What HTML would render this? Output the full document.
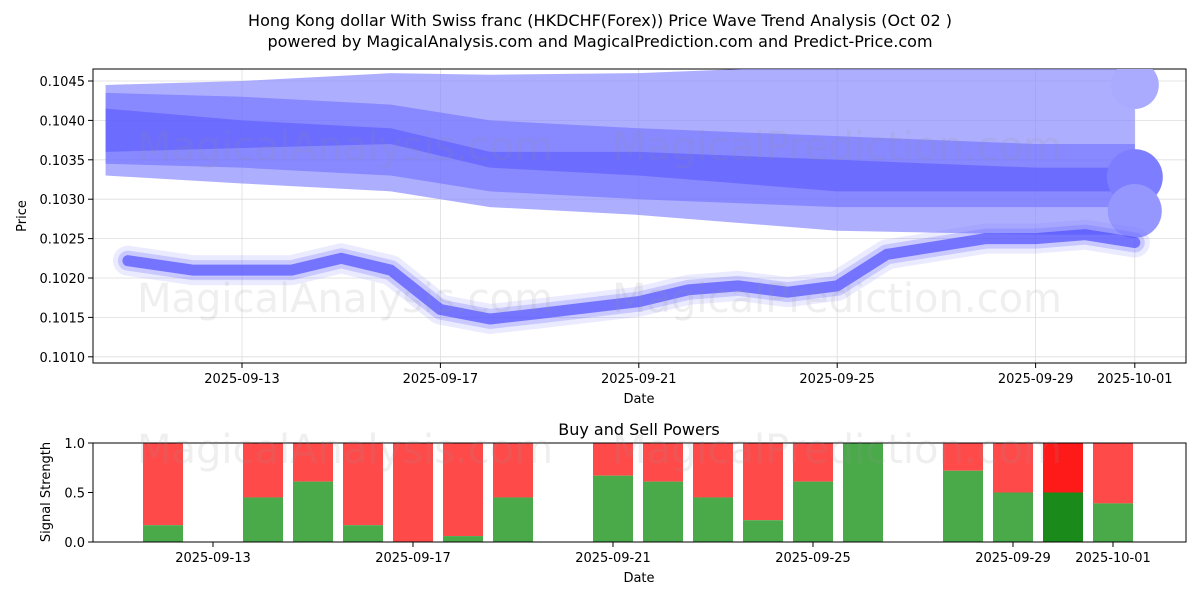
<!DOCTYPE html>
<html><head><meta charset="utf-8"><style>
body{margin:0;background:#fff;font-family:"Liberation Sans","DejaVu Sans",sans-serif}
svg text{font-family:"DejaVu Sans","Liberation Sans",sans-serif;font-size:13px;fill:#000}
</style></head><body>
<svg id="c" width="1200" height="600" xmlns="http://www.w3.org/2000/svg">
<defs><clipPath id="cp"><rect x="93" y="69" width="1093" height="294"/></clipPath></defs>
<text x="600" y="26" text-anchor="middle" style="font-size:16px">Hong Kong dollar With Swiss franc (HKDCHF(Forex)) Price Wave Trend Analysis (Oct 02 )</text>
<text x="600" y="47" text-anchor="middle" style="font-size:16px">powered by MagicalAnalysis.com and MagicalPrediction.com and Predict-Price.com</text>
<g id="topg"></g><g id="plotg" clip-path="url(#cp)"></g><g id="botg"></g>
</svg>
<script>
const NS='http://www.w3.org/2000/svg';
const bandDays=[-2.75,0,3,5,8,12,16,18];
const bandLightTop=[0.10445,0.1045,0.1046,0.10458,0.1046,0.1047,0.1047,0.1047];
const bandLightBot=[0.1033,0.1032,0.1031,0.1029,0.1028,0.1026,0.10255,0.10255];
const bandMidTop=[0.10435,0.1043,0.1042,0.1040,0.1039,0.1038,0.1037,0.1037];
const bandMidBot=[0.10345,0.1034,0.1033,0.1031,0.1030,0.1029,0.1029,0.1029];
const bandDarkTop=[0.10415,0.1040,0.1039,0.1036,0.1036,0.1035,0.1034,0.1034];
const bandDarkBot=[0.1036,0.10365,0.1037,0.1034,0.1033,0.1031,0.1031,0.1031];
const lineDays=[-2.3,-1,0,1,2,3,4,5,6,8,9,10,11,12,13,15,16,17,18];
const lineVals=[0.10222,0.1021,0.1021,0.1021,0.10225,0.1021,0.1016,0.10148,0.10155,0.1017,0.10185,0.1019,0.10182,0.1019,0.1023,0.1025,0.1025,0.10255,0.10245];
const yTicks=[0.1010,0.1015,0.1020,0.1025,0.1030,0.1035,0.1040,0.1045];
const xTickDays=[0,4,8,12,16,18];
const xTickLabels=['2025-09-13','2025-09-17','2025-09-21','2025-09-25','2025-09-29','2025-10-01'];
const barDays=[-1,1,2,3,4,5,6,8,9,10,11,12,13,15,16,17,18];
const barBuy=[0.17,0.45,0.61,0.17,0.0,0.06,0.45,0.67,0.61,0.45,0.22,0.61,1.0,0.72,0.5,0.5,0.39];
const sx=d=>242+49.6*d, sy=v=>81+(0.1045-v)/0.0005*39.4;
const bx=d=>213+50*d, by=v=>542-v*99;
function el(t,a,p){const e=document.createElementNS(NS,t);for(const k in a)e.setAttribute(k,a[k]);(p||document.getElementById('c')).appendChild(e);return e;}
const topG=document.getElementById('topg'),plotG=document.getElementById('plotg'),botG=document.getElementById('botg');
yTicks.forEach(v=>{const g=el('line',{x1:93,x2:1186,y1:sy(v),y2:sy(v),stroke:'#ddd','stroke-width':0.8},topG);


el('line',{x1:88,x2:93,y1:sy(v),y2:sy(v),stroke:'#000'},topG);
const t=el('text',{x:85,y:sy(v)+5,'text-anchor':'end'},topG);t.textContent=v.toFixed(4);

});
xTickDays.forEach((d,i)=>{el('line',{x1:sx(d),x2:sx(d),y1:69,y2:363,stroke:'#ddd','stroke-width':0.8},topG);
el('line',{x1:sx(d),x2:sx(d),y1:363,y2:368,stroke:'#000'},topG);
const t=el('text',{x:sx(d),y:383,'text-anchor':'middle'},topG);t.textContent=xTickLabels[i];

});
[[345,160,'MagicalAnalysis.com'],[837,160,'MagicalPrediction.com'],[345,312,'MagicalAnalysis.com'],[837,312,'MagicalPrediction.com'],[345,463,'MagicalAnalysis.com'],[837,463,'MagicalPrediction.com']].forEach(w=>{const t=el('text',{x:w[0],y:w[1],'text-anchor':'middle',style:'font-size:40px;fill:rgba(150,150,150,0.15)'});t.textContent=w[2];

});
function band(tp,bt,fill,name){let p=bandDays.map((d,i)=>sx(d)+','+sy(tp[i])).concat(bandDays.map((d,i)=>sx(d)+','+sy(bt[i])).reverse());
const e=el('polygon',{points:p.join(' '),fill:fill},plotG);

}
band(bandLightTop,bandLightBot,'rgba(140,140,255,0.7)','band-outer');
band(bandMidTop,bandMidBot,'rgba(110,110,255,0.6)','band-mid');
band(bandDarkTop,bandDarkBot,'rgba(85,85,255,0.55)','band-inner');
[[0.10445,24,'rgba(170,170,255,1)'],[0.10328,28,'rgba(125,125,255,1)'],[0.10285,27,'rgba(150,150,255,1)']].forEach(c=>{const e=el('circle',{cx:sx(18),cy:sy(c[0]),r:c[1],fill:c[2]},plotG);

});
const pts=lineDays.map((d,i)=>sx(d)+','+sy(lineVals[i])).join(' ');
[[30,'rgba(120,120,255,0.15)'],[20,'rgba(100,100,255,0.25)'],[11,'rgba(80,80,255,0.7)']].forEach(s=>{const e=el('polyline',{points:pts,fill:'none',stroke:s[1],'stroke-width':s[0],'stroke-linejoin':'round','stroke-linecap':'round'},plotG);

});
el('rect',{x:93,y:69,width:1093,height:294,fill:'none',stroke:'#000'},topG);
const yl=el('text',{x:26,y:216,'text-anchor':'middle',transform:'rotate(-90 26 216)'},topG);yl.textContent='Price';
const xl=el('text',{x:639,y:403,'text-anchor':'middle'},topG);xl.textContent='Date';
const bt=el('text',{x:639,y:435,'text-anchor':'middle',style:'font-size:16px'},botG);bt.textContent='Buy and Sell Powers';
barDays.forEach((d,i)=>{const x=bx(d)-20,v=barBuy[i],sp=i==15;
const r=el('rect',{x:x,y:by(1),width:40,height:by(v)-by(1),fill:sp?'#ff1a1a':'#ff4a4a'},botG);


const g=el('rect',{x:x,y:by(v),width:40,height:542-by(v),fill:sp?'#1a8a1a':'#4aaa4a'},botG);

});
[0,0.5,1].forEach(v=>{el('line',{x1:88,x2:93,y1:by(v),y2:by(v),stroke:'#000'},botG);const t=el('text',{x:85,y:by(v)+5,'text-anchor':'end'},botG);t.textContent=v.toFixed(1);});
xTickDays.forEach((d,i)=>{el('line',{x1:bx(d),x2:bx(d),y1:542,y2:547,stroke:'#000'},botG);const t=el('text',{x:bx(d),y:562,'text-anchor':'middle'},botG);t.textContent=xTickLabels[i];

});
el('rect',{x:93,y:443,width:1093,height:99,fill:'none',stroke:'#000'},botG);
const yl2=el('text',{x:50,y:492,'text-anchor':'middle',transform:'rotate(-90 50 492)'},botG);yl2.textContent='Signal Strength';
const xl2=el('text',{x:639,y:582,'text-anchor':'middle'},botG);xl2.textContent='Date';
</script></body></html>
